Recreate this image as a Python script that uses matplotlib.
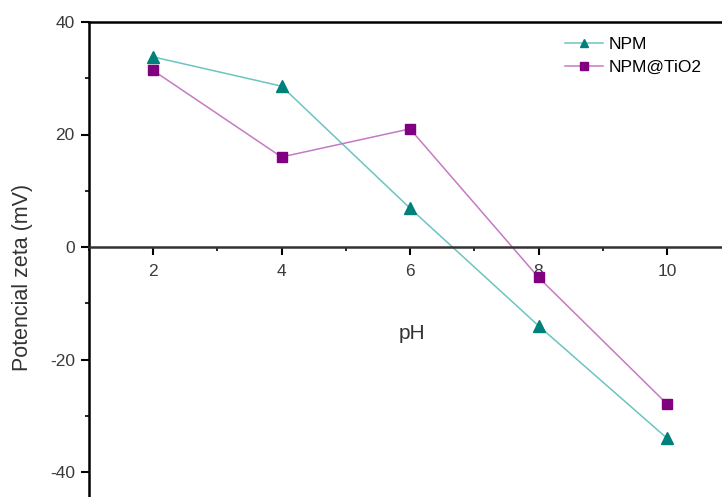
import matplotlib.pyplot as plt
from matplotlib.ticker import MultipleLocator

plt.rcParams['font.family'] = ['Liberation Sans', 'DejaVu Sans']
plt.rcParams['axes.unicode_minus'] = False

ph = [2, 4, 6, 8, 10]
npm = [33.8, 28.6, 6.9, -14.0, -34.0]
npm_tio2 = [31.4, 16.0, 21.0, -5.4, -27.9]

fig = plt.figure(figsize=(7.22, 4.97), dpi=100)
ax = fig.add_axes([88.75 / 722, 0, (722 - 88.75) / 722, 475 / 497])

ax.plot(ph, npm, color='#6cc4c0', lw=1.1, marker='^', ms=8,
        mfc='#00807a', mec='#00807a', label='NPM')
ax.plot(ph, npm_tio2, color='#c57ac5', lw=1.1, marker='s', ms=7,
        mfc='#800080', mec='#800080', label='NPM@TiO2')

ax.set_xlim(1, 1 + (722 - 88.75) / 64.25)
ax.set_ylim(40 - 475 / 5.625, 40)

ax.spines['right'].set_visible(False)
ax.spines['bottom'].set_position(('data', 0))
ax.spines['bottom'].set_linewidth(1.8)
ax.spines['bottom'].set_color('#333333')
ax.spines['left'].set_linewidth(1.8)
ax.spines['top'].set_linewidth(1.8)

ax.xaxis.set_major_locator(MultipleLocator(2))
ax.xaxis.set_minor_locator(MultipleLocator(1))
ax.yaxis.set_major_locator(MultipleLocator(20))
ax.yaxis.set_minor_locator(MultipleLocator(10))
ax.tick_params(which='major', length=6, width=1.5, labelsize=12.5,
               labelcolor='#3a3a3a', pad=4)
ax.tick_params(axis='x', which='major', pad=6)
ax.tick_params(which='minor', length=3, width=1.2)
ax.tick_params(axis='x', which='both', top=False)
ax.set_xticks([2, 4, 6, 8, 10])

ax.set_ylabel('Potencial zeta (mV)', fontsize=15.5, color='#333333')
ax.yaxis.set_label_coords(-0.088, 0.463)
ax.set_xlabel('pH', fontsize=15, color='#333333')
ax.xaxis.set_label_coords(0.51, 0.364)
ax.xaxis.label.set_va('top')

ax.legend(loc='upper left', bbox_to_anchor=(565 / 722, 1 - 37 / 497),
          bbox_transform=fig.transFigure, frameon=False, fontsize=12.5,
          borderpad=0, borderaxespad=0, handlelength=2.2,
          handletextpad=0.3, labelspacing=0.45, markerscale=0.8)

fig.savefig('out.png', dpi=100)
